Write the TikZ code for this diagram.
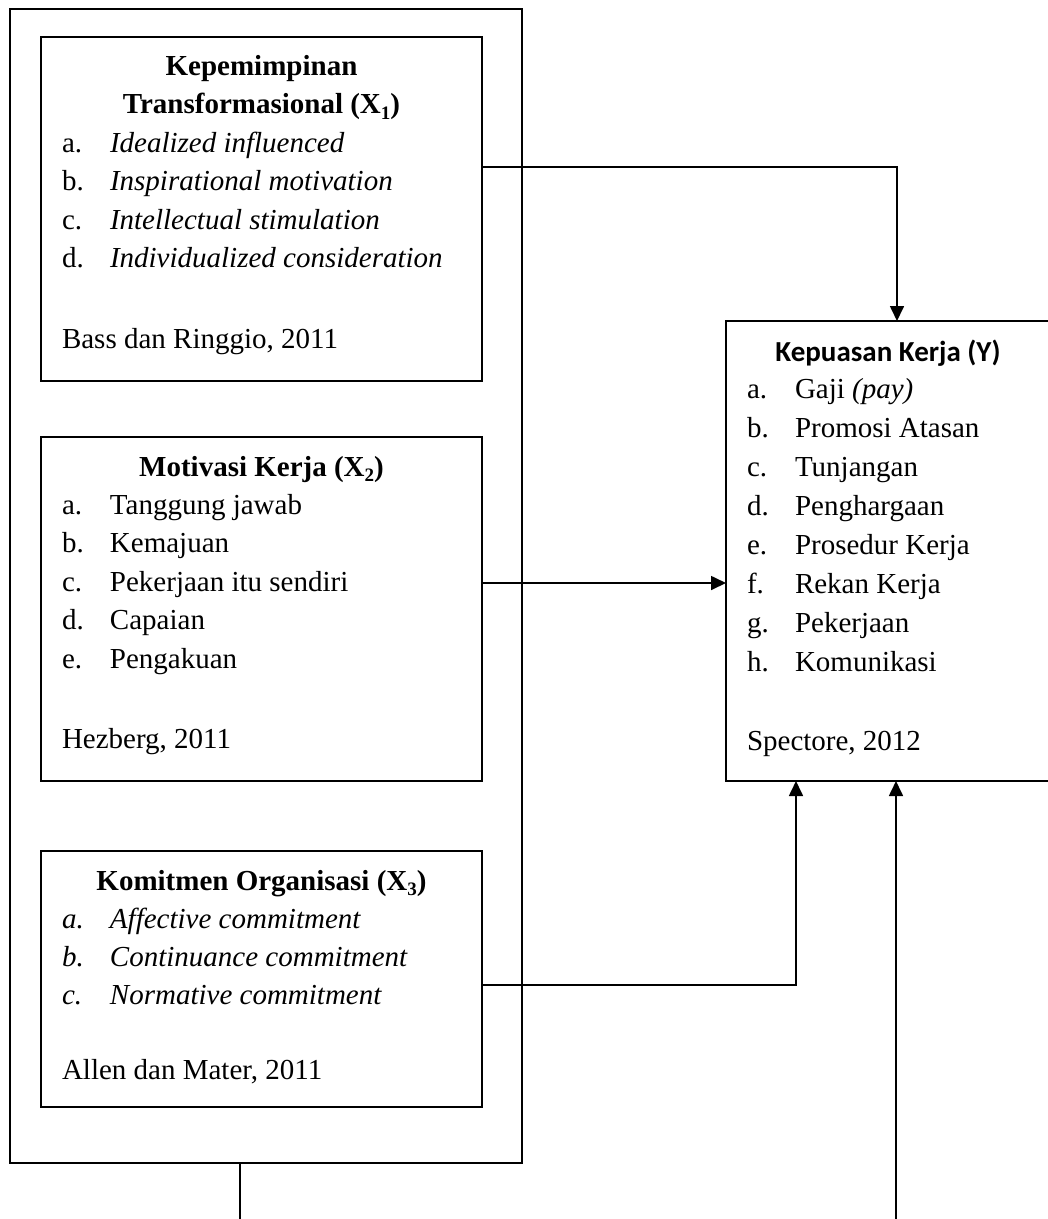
\documentclass[tikz,border=0pt]{standalone}
\usepackage{fontspec}
\setmainfont{Liberation Serif}
\newfontfamily\calibfont{Carlito}
\usetikzlibrary{arrows.meta}
\newcommand\subidx[1]{\raisebox{-0.2em}{\fontsize{19}{19}\selectfont #1}}
\begin{document}
\begin{tikzpicture}[x=1pt,y=-1pt,
  box/.style={draw=black,line width=2pt,inner sep=0pt,outer sep=0pt},
  txt/.style={inner sep=0pt,outer sep=0pt,font=\fontsize{29}{38.5}\selectfont},
  txty/.style={inner sep=0pt,outer sep=0pt,font=\fontsize{29}{39}\selectfont},
  txtz/.style={inner sep=0pt,outer sep=0pt,font=\fontsize{29}{38}\selectfont},
  conn/.style={draw=black,line width=1.7pt},
  arr/.style={conn,-{Triangle[length=15pt,width=14pt]}}]
\useasboundingbox (0,0) rectangle (1048,1219);
\clip (0,0) rectangle (1048,1219);
\fill[white] (0,0) rectangle (1048,1219);

% outer frame
\node[box,minimum width=512pt,minimum height=1154pt] (outer) at (266,586) {};

% X1
\node[box,minimum width=441pt,minimum height=344pt] (X1) at (261.5,209) {};
\node[txt,anchor=base] (X1t) at (261.5,75) {\begin{tabular}[t]{@{}c@{}}\textbf{Kepemimpinan}\\\textbf{Transformasional (X\subidx{1})}\end{tabular}};
\node[txt,anchor=base west] (X1i) at (62,152) {\begin{tabular}[t]{@{}p{48pt}@{}l@{}}
a. & \textit{Idealized influenced}\\
b. & \textit{Inspirational motivation}\\
c. & \textit{Intellectual stimulation}\\
d. & \textit{Individualized consideration}\\[42pt]
\multicolumn{2}{@{}l@{}}{Bass dan Ringgio, 2011}
\end{tabular}};

% X2
\node[box,minimum width=441pt,minimum height=344pt] (X2) at (261.5,609) {};
\node[txt,anchor=base] (X2t) at (261.5,476) {\textbf{Motivasi Kerja (X\subidx{2})}};
\node[txt,anchor=base west] (X2i) at (62,514) {\begin{tabular}[t]{@{}p{48pt}@{}l@{}}
a. & Tanggung jawab\\
b. & Kemajuan\\
c. & Pekerjaan itu sendiri\\
d. & Capaian\\
e. & Pengakuan\\[41.5pt]
\multicolumn{2}{@{}l@{}}{Hezberg, 2011}
\end{tabular}};

% X3
\node[box,minimum width=441pt,minimum height=256pt] (X3) at (261.5,979) {};
\node[txtz,anchor=base] (X3t) at (261.5,890) {\textbf{Komitmen Organisasi (X\subidx{3})}};
\node[txtz,anchor=base west] (X3i) at (62,928) {\begin{tabular}[t]{@{}p{48pt}@{}l@{}}
\textit{a.} & \textit{Affective commitment}\\
\textit{b.} & \textit{Continuance commitment}\\
\textit{c.} & \textit{Normative commitment}\\[37pt]
\multicolumn{2}{@{}l@{}}{Allen dan Mater, 2011}
\end{tabular}};

% Y
\node[box,minimum width=328pt,minimum height=460pt] (Y) at (890,551) {};
\node[txty,anchor=base] (Yt) at (888,361) {\calibfont\bfseries Kepuasan Kerja (Y)};
\node[txty,anchor=base west] (Yi) at (747,398) {\begin{tabular}[t]{@{}p{48pt}@{}l@{}}
a. & Gaji \textit{(pay)}\\
b. & Promosi Atasan\\
c. & Tunjangan\\
d. & Penghargaan\\
e. & Prosedur Kerja\\
f. & Rekan Kerja\\
g. & Pekerjaan\\
h. & Komunikasi\\[40pt]
\multicolumn{2}{@{}l@{}}{Spectore, 2012}
\end{tabular}};

% connectors
\coordinate (c1) at (897,167);
\coordinate (c2) at (600,583);
\coordinate (c3) at (796,985);
\coordinate (ob) at (240,1219);
\coordinate (yb) at (896,1219);
\draw[arr] (X1.east |- c1) -- (c1) -- (Y.north -| c1);
\draw[arr] (X2.east |- c2) -- (Y.west |- c2);
\draw[arr] (X3.east |- c3) -- (c3) -- (Y.south -| c3);
\draw[conn] (outer.south -| ob) -- (ob);
\draw[arr] (yb) -- (Y.south -| yb);
\end{tikzpicture}
\end{document}
